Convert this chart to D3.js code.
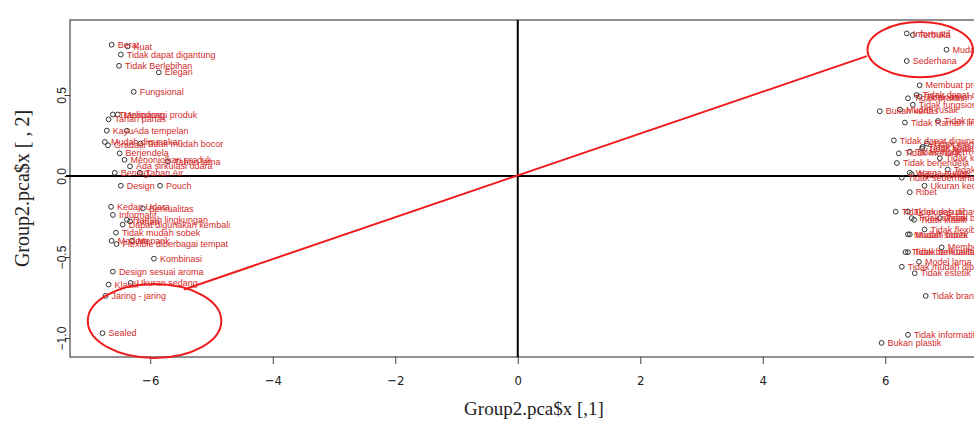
<!DOCTYPE html>
<html><head><meta charset="utf-8">
<script src="https://cdn.jsdelivr.net/npm/d3@7"></script>
<style>body{margin:0;background:#fff}svg{display:block}</style>
</head><body>
<svg id="c" width="974" height="425"></svg>
<script>
// ---- data ----
const labels = [
 "Berat","Kuat","Tidak dapat digantung","Tidak Berlebihan","Elegan","Fungsional",
 "Melindungi produk","Transparan","Tahan panas","Kayu","Ada tempelan","Mudah digunakan",
 "Gradasi","Tidak mudah bocor","Berjendela","Menonjolkan produk","Tahan lama","Ada sirkulasi udara",
 "Bening","Tahan Air","Design","Pouch","Kedap Udara","Berkualitas","Informatif",
 "Ramah lingkungan","Dapat digunakan kembali","Aman","Tidak mudah sobek","Modern","Menarik",
 "Flexible diberbagai tempat","Kombinasi","Design sesuai aroma","Klasik","Ukuran sedang",
 "Jaring - jaring","Sealed",
 "Informatif","Terbuka","Mudah dibuka","Sederhana","Membuat produk rusak","Tidak dapat dilihat",
 "Tidak aman","Tidak praktis","Tidak fungsional","Bukan kertas","Mudah rusak","Tidak Ramah lingkungan",
 "Tidak tahan lama","Tidak dapat digunakan kembali","Tidak elegan","Tidak kuat","Tidak kedap udara",
 "Tidak menarik","Tidak modern","Tidak kokoh","Tidak berjendela","Tidak unik","Warna pudar",
 "Tidak sederhana","Tidak mewah","Ukuran kecil","Ribet","Tidak mudah dibawa","Tidak sesuai",
 "Tidak simpel","Tidak klasik","Tidak bersih","Tidak flexible","Mudah sobek","Mudah bocor",
 "Membosankan","Tidak berkualitas","Tidak berkualitas","Model lama","Tidak mudah dipakai",
 "Tidak estetik","Tidak branded","Tidak informatif","Bukan plastik"
];
const pc1 = [
 -6.63,-6.37,-6.48,-6.51,-5.86,-6.27,
 -6.53,-6.61,-6.68,-6.71,-6.38,-6.74,
 -6.69,-6.16,-6.50,-6.42,-5.71,-6.33,
 -6.58,-6.17,-6.48,-5.84,-6.64,-6.12,-6.61,
 -6.38,-6.45,-6.33,-6.56,-6.63,-6.30,
 -6.55,-5.94,-6.61,-6.68,-6.32,
 -6.73,-6.78,
 6.35,6.45,7.00,6.35,6.56,6.51,
 6.56,6.37,6.45,5.91,6.24,6.32,
 6.86,6.14,6.68,6.61,6.60,
 6.22,6.40,6.89,6.19,7.02,6.40,
 6.27,6.43,6.64,6.40,6.17,6.37,
 6.43,6.47,6.89,6.64,6.37,6.40,
 6.92,6.33,6.37,6.55,6.27,
 6.48,6.66,6.37,5.94
];
const pc2 = [
 0.81,0.80,0.75,0.68,0.64,0.52,
 0.38,0.38,0.35,0.28,0.28,0.21,
 0.19,0.20,0.14,0.10,0.09,0.06,
 0.02,0.02,-0.06,-0.06,-0.19,-0.20,-0.24,
 -0.27,-0.30,-0.28,-0.35,-0.40,-0.40,
 -0.42,-0.51,-0.59,-0.67,-0.66,
 -0.74,-0.97,
 0.88,0.87,0.78,0.71,0.56,0.50,
 0.49,0.48,0.44,0.40,0.41,0.33,
 0.34,0.22,0.20,0.18,0.17,
 0.14,0.15,0.11,0.08,0.04,0.02,
 -0.01,0.01,-0.06,-0.10,-0.22,-0.22,
 -0.26,-0.27,-0.26,-0.33,-0.36,-0.36,
 -0.44,-0.47,-0.47,-0.53,-0.56,
 -0.60,-0.74,-0.98,-1.03
];
const xTicks = [-6,-4,-2,0,2,4,6];
const yTicks = [-1.0,-0.5,0.0,0.5];
const xTitle = "Group2.pca$x [,1]";
const yTitle = "Group2.pca$x [ , 2]";
// annotation (data units): ellipses [cx, cy, rx, ry], connecting line
const ellipses = [[6.57,0.78,0.86,0.17],[-5.93,-0.895,1.09,0.228]];
const linkLine = [[-5.45,-0.70],[5.70,0.74]];

// ---- drawing ----
const svg = d3.select("#c");
const L=70, R=998, T=20, B=357;
const x = d3.scaleLinear().domain([-7.31,7.84]).range([L,R]);
const y = d3.scaleLinear().domain([-1.117,0.963]).range([B,T]);

svg.append("rect").attr("x",L).attr("y",T).attr("width",R-L).attr("height",B-T)
  .attr("fill","none").attr("stroke","#555").attr("stroke-width",1.3);

const xa = svg.append("g").attr("transform",`translate(0,${B})`)
  .call(d3.axisBottom(x).tickValues(xTicks).tickSize(7).tickPadding(12).tickFormat(d3.format("d")));
xa.select(".domain").remove();
xa.selectAll("line").attr("stroke","#444");
xa.selectAll("text").attr("font-family","'Liberation Sans Narrow','DejaVu Sans Condensed',Arial,sans-serif")
  .attr("font-size",13).attr("fill","#222");

const ya = svg.append("g").attr("transform",`translate(${L},0)`)
  .call(d3.axisLeft(y).tickValues(yTicks).tickSize(5).tickFormat(d3.format(".1f")));
ya.select(".domain").remove();
ya.selectAll("line").attr("stroke","#444");
ya.selectAll("text").attr("font-family","Arial,'Liberation Sans',sans-serif").attr("font-size",12)
  .attr("fill","#222").attr("text-anchor","middle").attr("dy",0).attr("x",0)
  .attr("transform",d=>`translate(-4,0) rotate(-90)`);

svg.append("text").attr("x",(L+R)/2).attr("y",415).attr("text-anchor","middle")
  .attr("font-family","'Liberation Serif','Times New Roman',serif").attr("font-size",19).attr("fill","#222").text(xTitle);
svg.append("text").attr("transform",`translate(29,${(T+B)/2}) rotate(-90)`).attr("text-anchor","middle")
  .attr("font-family","'Liberation Serif','Times New Roman',serif").attr("font-size",20).attr("fill","#222").text(yTitle);

// zero lines
svg.append("line").attr("x1",L-4).attr("x2",R).attr("y1",y(0)).attr("y2",y(0)).attr("stroke","#000").attr("stroke-width",2);
svg.append("line").attr("x1",x(0)).attr("x2",x(0)).attr("y1",T).attr("y2",B).attr("stroke","#000").attr("stroke-width",2);

const pts = labels.map((l,i)=>({l, a:pc1[i], b:pc2[i]}));
svg.append("g").selectAll("circle").data(pts).join("circle")
  .attr("cx",d=>x(d.a)).attr("cy",d=>y(d.b)).attr("r",2.4)
  .attr("fill","none").attr("stroke","#333").attr("stroke-width",1);
svg.append("g").selectAll("text").data(pts).join("text")
  .attr("x",d=>x(d.a)+6).attr("y",d=>y(d.b)).attr("dy","0.35em")
  .attr("font-family","Arial,'Liberation Sans',sans-serif").attr("font-size",9)
  .attr("fill","#d42a2a").text(d=>d.l);

// annotations
svg.append("g").selectAll("ellipse").data(ellipses).join("ellipse")
  .attr("cx",d=>x(d[0])).attr("cy",d=>y(d[1]))
  .attr("rx",d=>x(d[2])-x(0)).attr("ry",d=>y(0)-y(d[3]))
  .attr("fill","none").attr("stroke","#ee1c1c").attr("stroke-width",2);
svg.append("path").attr("d",d3.line().x(d=>x(d[0])).y(d=>y(d[1]))(linkLine))
  .attr("fill","none").attr("stroke","#ee1c1c").attr("stroke-width",2);
</script>
</body></html>
